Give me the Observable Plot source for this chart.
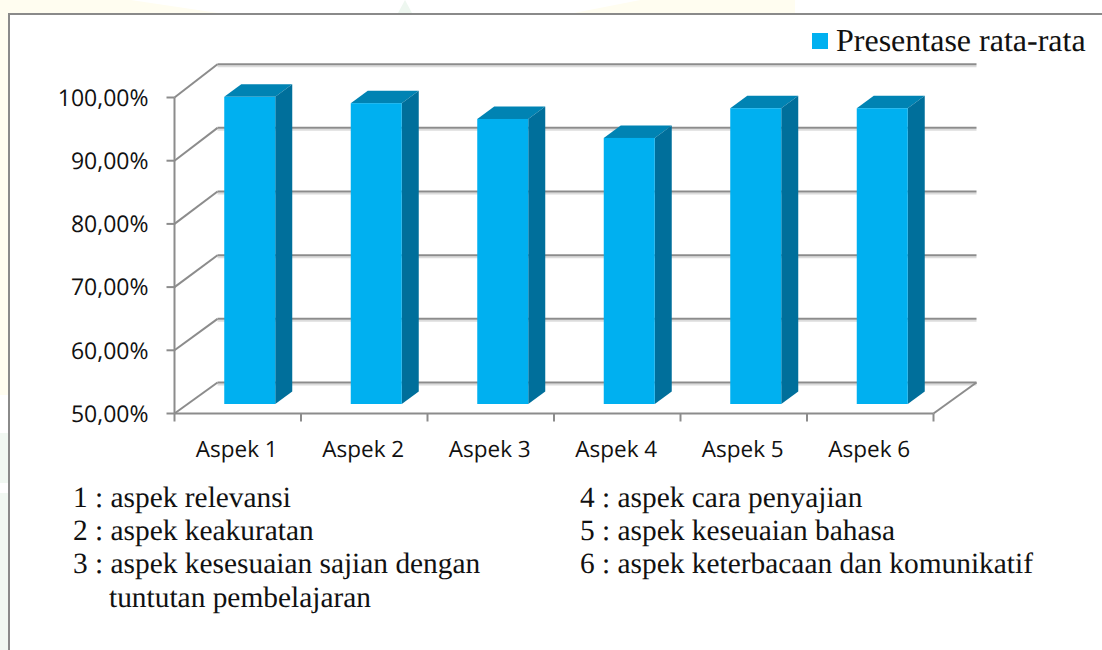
<!DOCTYPE html>
<html><head><meta charset="utf-8">
<script src="https://cdn.jsdelivr.net/npm/d3@7"></script>
<script src="https://cdn.jsdelivr.net/npm/@observablehq/plot@0.6"></script>
<style>
html,body{margin:0;padding:0;background:#fff;width:1102px;height:650px;overflow:hidden}
#wrap{position:relative;width:1102px;height:650px;text-rendering:geometricPrecision}
#frame{position:absolute;left:8px;top:13px;width:1094px;height:637px;background:#fff;border-left:2px solid #8a8a8a;border-top:2px solid #8a8a8a;box-sizing:border-box}
#chart{position:absolute;left:0;top:0}
.wm{position:absolute}
.note{position:absolute;font:29.4px/1 "Liberation Serif",serif;color:#111;white-space:pre}
.leg{position:absolute;font:32px/1 "Liberation Serif",serif;color:#111;white-space:pre}
</style></head><body>
<div id="wrap">
<div class="wm" style="left:0;top:0;width:8px;height:395px;background:#fffdf0"></div>
<div class="wm" style="left:0;top:433px;width:8px;height:50px;background:#f1f8f2"></div>
<div class="wm" style="left:0;top:493px;width:8px;height:157px;background:#f1f8f2"></div>
<div class="wm" style="left:0;top:0;width:218px;height:13px;background:#fffdf0;clip-path:polygon(0 0,60% 0,100% 100%,0 100%)"></div>
<div class="wm" style="left:398px;top:0;width:14px;height:13px;background:#eef7f0;clip-path:polygon(50% 0,100% 100%,0 100%)"></div>
<div class="wm" style="left:574px;top:0;width:221px;height:13px;background:#fffdf0;clip-path:polygon(30% 0,100% 0,100% 100%,0 100%)"></div>
<div id="frame"></div>
<div id="chart"></div>
<div id="text"></div>
</div>
<script>
const categories = ["Aspek 1","Aspek 2","Aspek 3","Aspek 4","Aspek 5","Aspek 6"];
const values = [98.6,97.6,95.1,92.1,96.8,96.8];
const yTicks = [50,60,70,80,90,100];
const seriesName = "Presentase rata-rata";
const notesLeft = ["1 : aspek relevansi","2 : aspek keakuratan","3 : aspek kesesuaian sajian dengan"];
const notesLeftWrap = "tuntutan pembelajaran";
const notesRight = ["4 : aspek cara penyajian","5 : aspek keseuaian bahasa","6 : aspek keterbacaan dan komunikatif"];

const W=1102,H=650;
const ml=174, mr=W-933, mt=97, mb=H-413;
const unitX=(933-174)/6, unitY=(413-97)/50;
// 3D depth expressed in data units; the back wall is very slightly taller than the front plane
const wallDx=43/unitX;
const wallY=v=>v+(31+(v-50)/50*2.3)/unitY;
const barDx=17/unitX, barDy=12.5/unitY;
const frontDx=12.5/unitX, frontDy=9/unitY;
const barW=51/unitX;
const blue="#00b0f0", topC="#0083b3", sideC="#006f9b", grid="#8c8c8c";
const rows=categories.map((c,i)=>{
  const l=i+0.5-barW/2+frontDx, r=l+barW, b=50+frontDy, t=values[i]+frontDy;
  return {c,i,l,r,b,t};
});
const sideRows=rows.flatMap(d=>[{i:d.i,x:d.r,y1:d.b,y2:d.t},{i:d.i,x:d.r+barDx,y1:d.b+barDy,y2:d.t+barDy}]);
const topRows=rows.flatMap(d=>[{i:d.i,y:d.t,x1:d.l,x2:d.r},{i:d.i,y:d.t+barDy,x1:d.l+barDx,x2:d.r+barDx}]);
const xTicks=d3.range(7);

const plot=Plot.plot({
  width:W,height:H,marginLeft:ml,marginRight:mr,marginTop:mt,marginBottom:mb,
  style:{background:"transparent",overflow:"visible"},
  x:{type:"linear",domain:[0,6],axis:null},
  y:{type:"linear",domain:[50,100],axis:null},
  marks:[
    Plot.link(yTicks,{x1:wallDx,x2:6+wallDx,y1:wallY,y2:wallY,stroke:"#dcdcdc",strokeWidth:2,dy:2}),
    Plot.link(yTicks,{x1:wallDx,x2:6+wallDx,y1:wallY,y2:wallY,stroke:grid,strokeWidth:2}),
    Plot.link(yTicks,{x1:0,x2:wallDx,y1:d=>d,y2:wallY,stroke:grid,strokeWidth:2}),
    Plot.link([50],{x1:6,x2:6+wallDx,y1:d=>d,y2:wallY,stroke:grid,strokeWidth:2}),
    Plot.link([0],{x1:0,x2:0,y1:50,y2:100,stroke:grid,strokeWidth:2}),
    Plot.link([0],{x1:0,x2:6,y1:50,y2:50,stroke:grid,strokeWidth:2}),
    Plot.link(yTicks,{x1:-8/unitX,x2:0,y1:d=>d,y2:d=>d,stroke:grid,strokeWidth:2}),
    Plot.link(xTicks,{x1:d=>d,x2:d=>d,y1:50,y2:50-8/unitY,stroke:grid,strokeWidth:2}),
    ...rows.map(d=>Plot.areaX(topRows.filter(r=>r.i===d.i),{y:"y",x1:"x1",x2:"x2",fill:topC})),
    ...rows.map(d=>Plot.areaY(sideRows.filter(r=>r.i===d.i),{x:"x",y1:"y1",y2:"y2",fill:sideC})),
    Plot.rect(rows,{x1:"l",x2:"r",y1:"b",y2:"t",fill:blue}),
    Plot.text(yTicks,{x:0,y:d=>d,text:d=>d.toFixed(2).replace(".",",")+"%",textAnchor:"end",dx:-26,dy:1,fontSize:23,fontFamily:"Open Sans",fill:"#111"}),
    Plot.text(rows,{x:d=>d.i+0.5,y:50,text:"c",dx:-1,dy:36,fontSize:22.5,fontFamily:"Open Sans",fill:"#111"})
  ]
});
document.getElementById("chart").appendChild(plot);

const t=document.getElementById("text");
function add(cls,s,x,y){const e=document.createElement("div");e.className=cls;e.textContent=s;e.style.left=x+"px";e.style.top=y+"px";t.appendChild(e);}
notesLeft.forEach((s,i)=>add("note",s,73,483.5+i*33.4));
add("note",notesLeftWrap,109,483.5+3*33.4);
notesRight.forEach((s,i)=>add("note",s,580,483.5+i*33.4));
add("leg",seriesName,836,24);
const sw=document.createElement("div");
sw.style.cssText="position:absolute;left:812px;top:33px;width:16px;height:16px;background:"+blue;
t.appendChild(sw);
</script>
</body></html>
